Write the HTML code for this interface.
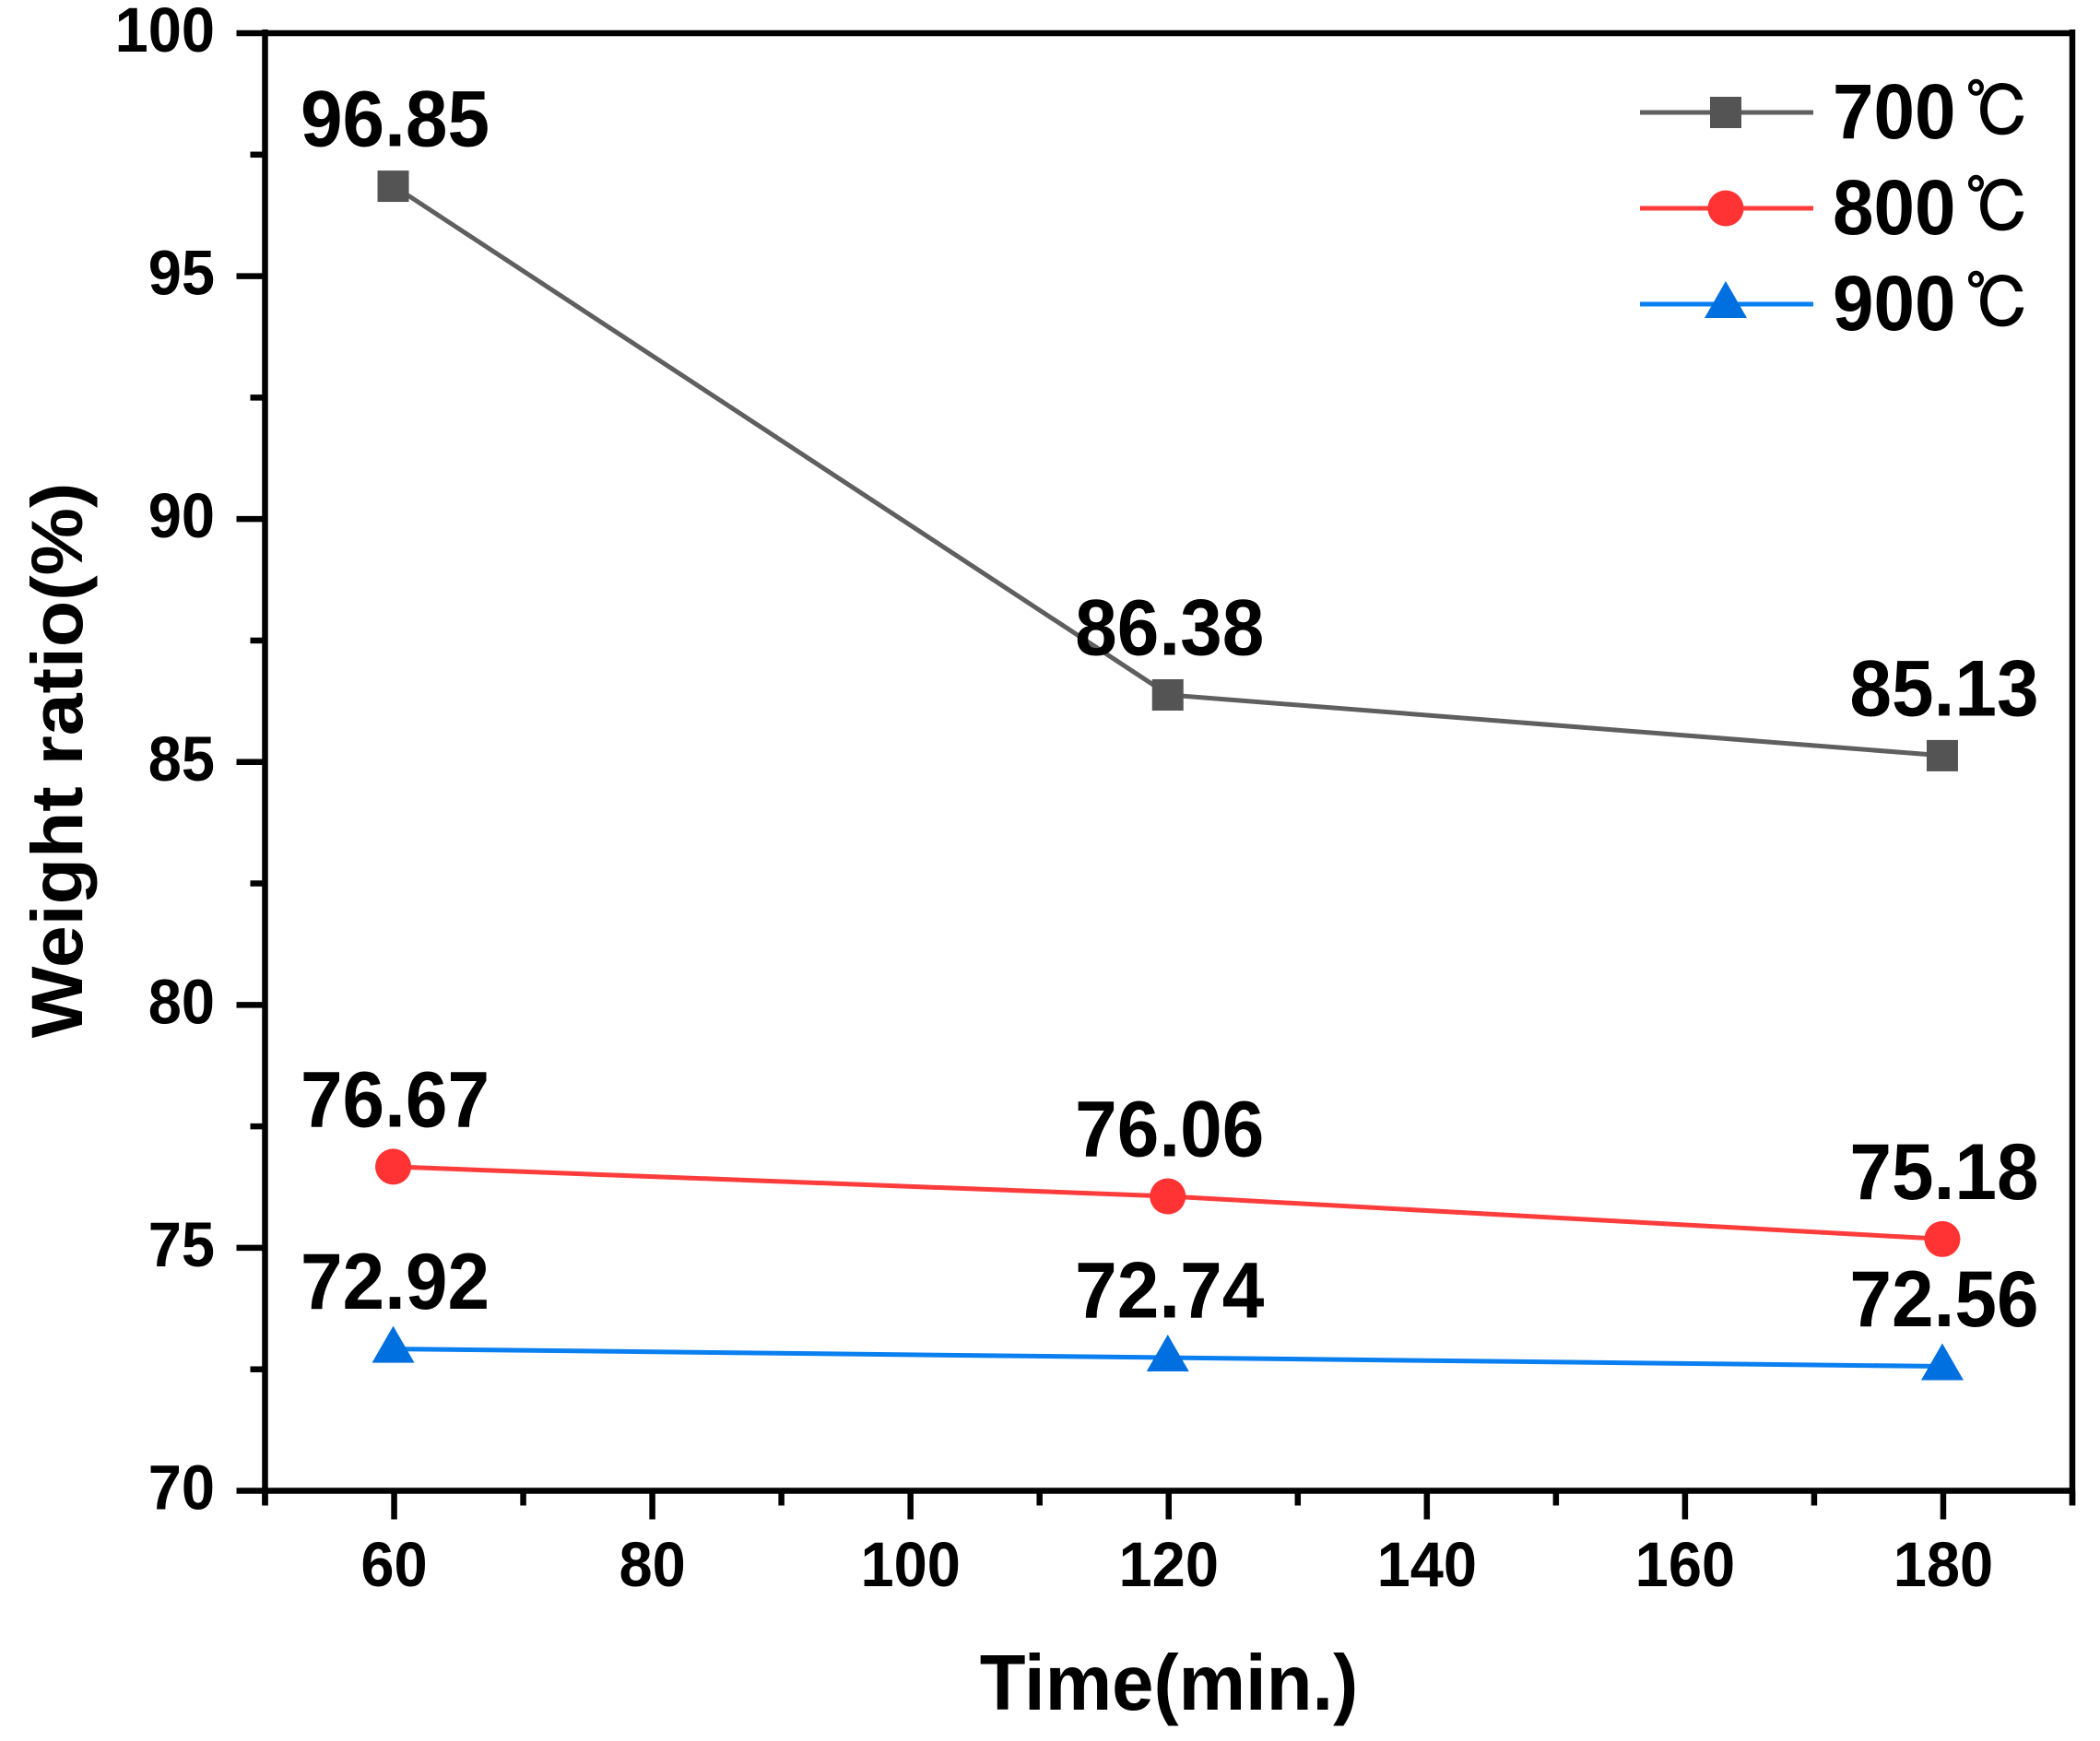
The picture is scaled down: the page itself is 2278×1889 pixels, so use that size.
<!DOCTYPE html>
<html lang="en">
<head>
<meta charset="utf-8">
<title>Weight ratio vs time</title>
<style>
html,body{margin:0;padding:0;background:#fff;width:2278px;height:1889px;overflow:hidden}
svg{display:block}
text{font-family:"Liberation Sans","Noto Sans CJK SC",sans-serif;font-weight:700;fill:#000}
</style>
</head>
<body>
<svg id="chart" xmlns="http://www.w3.org/2000/svg" width="2278" height="1889" viewBox="0 0 2278 1889">
<rect x="0" y="0" width="2278" height="1889" fill="#ffffff"/>
</svg>
<script>
const categories = [60, 120, 180];
const series700 = [96.85, 86.38, 85.13];
const series800 = [76.67, 76.06, 75.18];
const series900 = [72.92, 72.74, 72.56];
const printed700 = ['96.85', '86.38', '85.13'];
const printed800 = ['76.67', '76.06', '75.18'];
const printed900 = ['72.92', '72.74', '72.56'];
const xTickLabels = ['60', '80', '100', '120', '140', '160', '180'];
const yTickLabels = ['70', '75', '80', '85', '90', '95', '100'];
const xMinorTicks = [50, 70, 90, 110, 130, 150, 170, 190];
const yMinorTicks = [72.5, 77.5, 82.5, 87.5, 92.5, 97.5];
const legendLabels = ['700', '800', '900'];

const svg = document.getElementById('chart');
const NS = 'http://www.w3.org/2000/svg';
const plot = {left: 287.5, right: 2248, top: 36, bottom: 1617.5};
const xDomain = [50, 190];
const yDomain = [70, 100];
const stretch = 1.05;

function xScale(v) {
  return plot.left + (v - xDomain[0]) / (xDomain[1] - xDomain[0]) * (plot.right - plot.left);
}
function yScale(v) {
  return plot.bottom - (v - yDomain[0]) / (yDomain[1] - yDomain[0]) * (plot.bottom - plot.top);
}
function make(tag, attrs) {
  const el = document.createElementNS(NS, tag);
  for (const k in attrs) el.setAttribute(k, attrs[k]);
  svg.appendChild(el);
  return el;
}
function label(str, x, y, size, anchor) {
  const el = make('text', {
    transform: 'translate(' + x + ',' + y + ') scale(1,' + stretch + ')',
    'font-size': size,
    'text-anchor': anchor
  });
  el.textContent = str;
  return el;
}
function axisLine(x1, y1, x2, y2, w) {
  return make('line', {x1: x1, y1: y1, x2: x2, y2: y2, stroke: '#000', 'stroke-width': w});
}
function marker(kind, cx, cy, color) {
  let el;
  if (kind === 'square') {
    el = make('rect', {x: cx - 17, y: cy - 17, width: 34, height: 34, fill: color});
  } else if (kind === 'circle') {
    el = make('circle', {cx: cx, cy: cy, r: 19.5, fill: color});
  } else {
    el = make('polygon', {
      points: cx + ',' + (cy - 25) + ' ' + (cx + 23) + ',' + (cy + 15) + ' ' + (cx - 23) + ',' + (cy + 15),
      fill: color
    });
  }
  return el;
}

/* frame */
const topAxis = axisLine(plot.left, plot.top, plot.right, plot.top, 6.5);


const rightAxis = axisLine(plot.right, plot.top - 4, plot.right, plot.bottom + 16, 6.5);


const leftAxis = axisLine(plot.left, plot.top - 4, plot.left, plot.bottom + 16, 6.5);


const bottomAxis = axisLine(plot.left, plot.bottom, plot.right, plot.bottom, 6.5);



/* y ticks */
yTickLabels.forEach(function (t) {
  const y = yScale(Number(t));
  const tick = axisLine(plot.left - 31, y, plot.left, y, 6.5);
  
  
  const txt = label(t, 233, y + 20, 65, 'end');
  
  
});
yMinorTicks.forEach(function (v) {
  const y = yScale(v);
  const tick = axisLine(plot.left - 16, y, plot.left, y, 6.5);
  
  
});

/* x ticks */
xTickLabels.forEach(function (t) {
  const x = xScale(Number(t));
  const tick = axisLine(x, plot.bottom, x, plot.bottom + 31, 6.5);
  
  
  const txt = label(t, x, 1721, 65, 'middle');
  
  
});
xMinorTicks.forEach(function (v) {
  const x = xScale(v);
  const tick = axisLine(x, plot.bottom, x, plot.bottom + 16, 6.5);
  
  
});

/* axis titles */
const xTitle = label('Time(min.)', 1268, 1855, 81.5, 'middle');


const yTitle = make('text', {
  transform: 'translate(89,825) rotate(-90) scale(' + stretch + ',1)',
  'font-size': 78.5,
  'text-anchor': 'middle'
});
yTitle.textContent = 'Weight ratio(%)';



/* series */
function drawSeries(values, printed, lineColor, markerColor, kind, seriesName) {
  const line = make('polyline', {
    points: values.map(function (v, i) { return xScale(categories[i]) + ',' + yScale(v); }).join(' '),
    fill: 'none',
    stroke: lineColor,
    'stroke-width': 5
  });
  
  
  values.forEach(function (v, i) {
    const cx = xScale(categories[i]);
    const cy = yScale(v);
    const m = marker(kind, cx - 1, cy, markerColor);
    
    
    const t = label(printed[i], cx + 1, cy - 43.5, 82, 'middle');
    
    
  });
}
drawSeries(series700, printed700, '#5f5f5f', '#545454', 'square', 'series-700');
drawSeries(series800, printed800, '#ff3c3c', '#ff3333', 'circle', 'series-800');
drawSeries(series900, printed900, '#0a7ff0', '#0070e0', 'triangle', 'series-900');

/* legend */
const legendLineColors = ['#5f5f5f', '#ff3c3c', '#0a7ff0'];
const legendMarkerColors = ['#545454', '#ff3333', '#0070e0'];
const legendKinds = ['square', 'circle', 'triangle'];
const legendRowY = 122;
const legendRowGap = 104;
legendLabels.forEach(function (t, i) {
  const y = legendRowY + i * legendRowGap;
  const ln = make('line', {x1: 1779, y1: y, x2: 1967, y2: y, stroke: legendLineColors[i], 'stroke-width': 5});
  
  
  const m = marker(legendKinds[i], 1872, y, legendMarkerColors[i]);
  
  
  const txt = label(t, 1988, y + 28, 80, 'start');
  
  
  const unit = make('text', {
    transform: 'translate(2132,' + (y + 26) + ') scale(1,1.06)',
    'font-size': 70,
    stroke: '#000',
    'stroke-width': 1.4,
    style: 'font-family:"IPAGothic","Noto Sans CJK SC",sans-serif;font-weight:400'
  });
  unit.textContent = '℃';
  
  
});
</script>
</body>
</html>
